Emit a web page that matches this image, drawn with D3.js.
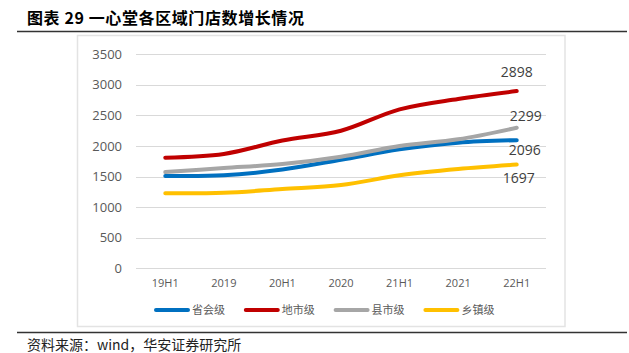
<!DOCTYPE html>
<html>
<head>
<meta charset="utf-8">
<title>一心堂各区域门店数增长情况</title>
<style>
  body { margin: 0; background: #fff; }
  svg { display: block; font-family: "Open Sans", "Noto Sans CJK SC", sans-serif; }
  .grid line { stroke: #d9d9d9; stroke-width: 1; }
  .tick-y { font-size: 13px; fill: #595959; text-anchor: end; }
  .tick-x { font-size: 11px; fill: #595959; text-anchor: middle; }
  .series { fill: none; stroke-width: 4; stroke-linecap: round; stroke-linejoin: round; }
  .end-label { font-size: 14px; fill: #404040; text-anchor: middle; }
  .legend text { font-size: 11px; fill: #595959; font-family: "Noto Sans CJK SC", sans-serif; }
</style>
</head>
<body>
<svg id="chart"></svg>
<script src="https://cdnjs.cloudflare.com/ajax/libs/d3/7.8.5/d3.min.js"></script>
<script>
var categories = ["19H1", "2019", "20H1", "2020", "21H1", "2021", "22H1"];
var yTicks = [0, 500, 1000, 1500, 2000, 2500, 3000, 3500];

var seriesNames = ["省会级", "地市级", "县市级", "乡镇级"];
var provincial = [1510, 1520, 1615, 1775, 1945, 2055, 2096];
var prefecture = [1810, 1870, 2090, 2250, 2600, 2770, 2898];
var county     = [1575, 1640, 1705, 1825, 2000, 2110, 2299];
var township   = [1227, 1235, 1297, 1362, 1521, 1624, 1697];
var colors = ["#0070c0", "#c00000", "#a6a6a6", "#ffc000"];

// end labels: offset from the last point (dx, dy)
var labelOffsets = [[8, 10], [0, -19], [9, -12], [2, 14]];

var width = 629, height = 353;
var seriesData = [provincial, prefecture, county, township];

var svg = d3.select("#chart")
  .attr("width", width)
  .attr("height", height);

// title
svg.append("text")
  .attr("x", 27)
  .attr("y", 24)
  .style("font-family", "'Noto Sans CJK SC', sans-serif")
  .style("font-size", "16px")
  .style("font-weight", "bold")
  .style("letter-spacing", "0.6px")
  .style("fill", "#000")
  .text("图表 29 一心堂各区域门店数增长情况");

svg.append("line")
  .attr("x1", 17).attr("x2", 627)
  .attr("y1", 31.5).attr("y2", 31.5)
  .style("stroke", "#333").style("stroke-width", 1.3);

// chart frame
svg.append("rect")
  .attr("x", 77.5).attr("y", 35.5)
  .attr("width", 487.5).attr("height", 291)
  .style("fill", "#fff")
  .style("stroke", "#e3e3e3")
  .style("stroke-width", 1.5);

var x = d3.scalePoint()
  .domain(categories)
  .range([136, 546])
  .padding(0.5);

var y = d3.scaleLinear()
  .domain([0, 3500])
  .range([268.3, 54.3]);

// grid
svg.append("g").attr("class", "grid")
  .selectAll("line")
  .data(yTicks)
  .enter().append("line")
  .attr("x1", 136).attr("x2", 546)
  .attr("y1", function(d) { return Math.round(y(d)) + 0.5; })
  .attr("y2", function(d) { return Math.round(y(d)) + 0.5; });

svg.append("g")
  .selectAll("text")
  .data(yTicks)
  .enter().append("text")
  .attr("class", "tick-y")
  .attr("x", 122)
  .attr("y", function(d) { return y(d); })
  .attr("dy", "0.35em")
  .text(function(d) { return d; });

svg.append("g")
  .selectAll("text")
  .data(categories)
  .enter().append("text")
  .attr("class", "tick-x")
  .attr("x", function(d) { return x(d); })
  .attr("y", 283)
  .attr("dy", "0.35em")
  .text(function(d) { return d; });

var line = d3.line()
  .x(function(d, i) { return x(categories[i]); })
  .y(function(d) { return y(d); })
  .curve(d3.curveCatmullRom.alpha(0.5));

svg.append("g")
  .selectAll("path")
  .data(seriesData)
  .enter().append("path")
  .attr("class", "series")
  .attr("d", line)
  .style("stroke", function(d, i) { return colors[i]; });

// labels at the last point
svg.append("g")
  .selectAll("text")
  .data(seriesData)
  .enter().append("text")
  .attr("class", "end-label")
  .attr("x", function(d, i) { return x(categories[categories.length - 1]) + labelOffsets[i][0]; })
  .attr("y", function(d, i) { return y(d[d.length - 1]) + labelOffsets[i][1]; })
  .attr("dy", "0.35em")
  .text(function(d) { return d[d.length - 1]; });

// legend
var legend = svg.append("g").attr("class", "legend")
  .selectAll("g")
  .data(seriesNames)
  .enter().append("g")
  .attr("transform", function(d, i) { return "translate(" + (156 + i * 89.8) + ",310)"; });

legend.append("line")
  .attr("x1", 0).attr("x2", 32)
  .attr("y1", 0).attr("y2", 0)
  .style("stroke", function(d, i) { return colors[i]; })
  .style("stroke-width", 4)
  .style("stroke-linecap", "round");

legend.append("text")
  .attr("x", 36)
  .attr("dy", "0.35em")
  .text(function(d) { return d; });

// footer
svg.append("line")
  .attr("x1", 17).attr("x2", 627)
  .attr("y1", 332.5).attr("y2", 332.5)
  .style("stroke", "#333").style("stroke-width", 1.3);

svg.append("text")
  .attr("x", 27)
  .attr("y", 350)
  .style("font-family", "'Noto Sans CJK SC', sans-serif")
  .style("font-size", "14px")
  .style("fill", "#222")
  .text("资料来源：wind，华安证券研究所");
</script>
</body>
</html>
